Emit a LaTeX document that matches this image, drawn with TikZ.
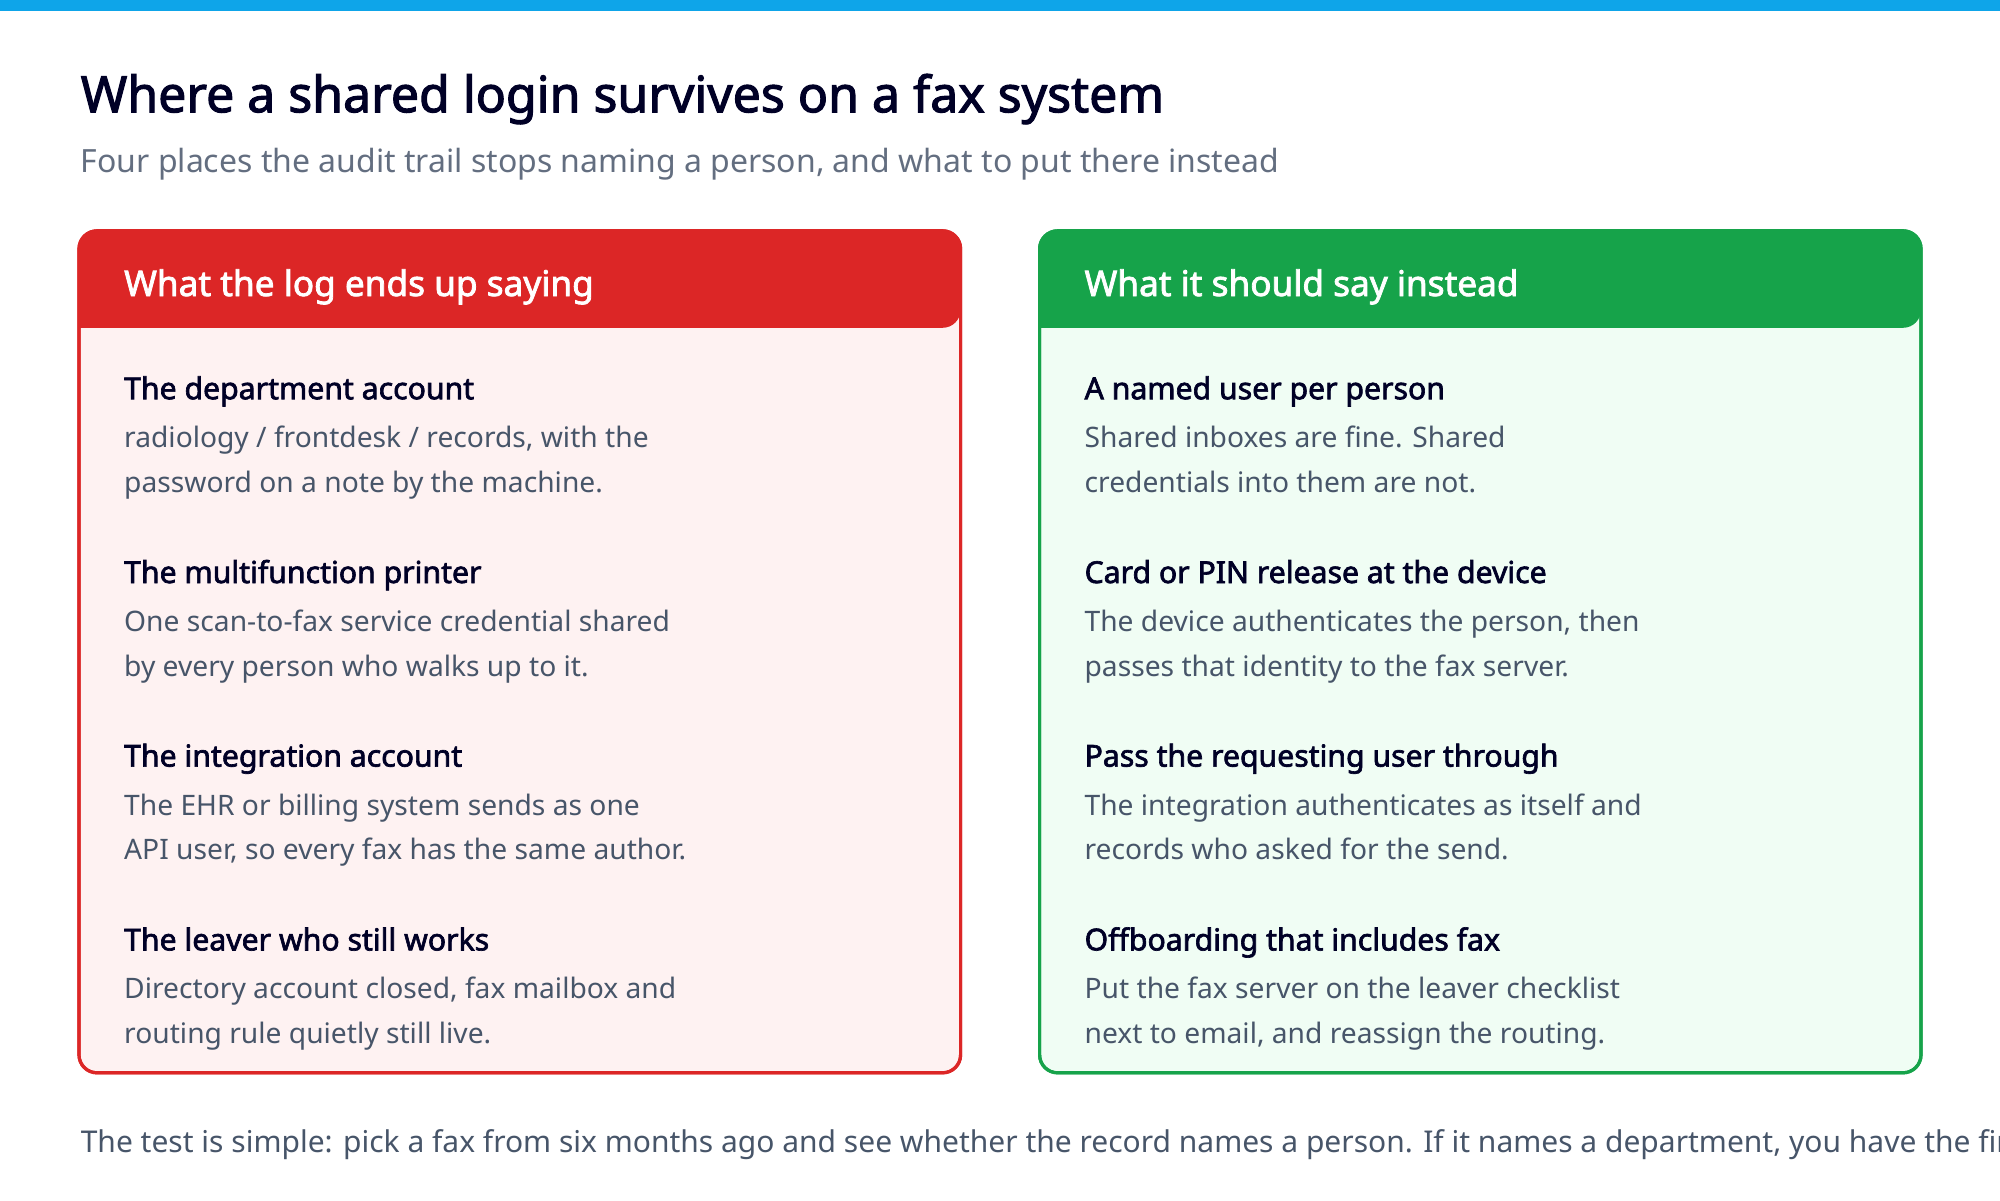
\documentclass[tikz,border=0pt]{standalone}
\usepackage{fontspec}
\setmainfont{Noto Sans}[BoldFont={Noto Sans},BoldFeatures={FakeBold=2.2}]
\begin{document}
\begin{tikzpicture}[x=1pt,y=-1pt,
  t/.style={anchor=base west,inner sep=0pt},
  hd/.style={t,font=\fontsize{15.1}{18}\selectfont\bfseries,text=black!85!blue},
  bd/.style={t,font=\fontsize{14.1}{18}\selectfont,text=slate},
  box/.style={rounded corners=9pt,line width=1.6pt}]
\definecolor{slate}{HTML}{475569}
\definecolor{sky}{HTML}{0EA5E9}
\definecolor{rd}{HTML}{DC2626}\definecolor{rdf}{HTML}{FEF2F2}
\definecolor{gn}{HTML}{16A34A}\definecolor{gnf}{HTML}{F0FDF4}
\useasboundingbox (0,0) rectangle (1000,600);
\clip (0,0) rectangle (1000,600);
\fill[sky] (0,0) rectangle (1000,5.7);
\node[t,font=\fontsize{25}{30}\selectfont\bfseries,text=black!85!blue] (title) at (40.2,56.1) {Where a shared login survives on a fax system};
\node[t,font=\fontsize{16}{20}\selectfont,text=slate!85] (sub) at (40.2,86.1) {Four places the audit trail stops naming a person, and what to put there instead};
% boxes
\draw[box,draw=rd,fill=rdf] (39.5,115.4) rectangle (480.3,536.4);
\fill[rd,rounded corners=9pt] (39.5,163.9) -- (39.5,115.4) -- (480.3,115.4) -- (480.3,163.9) [sharp corners] -- cycle;
\draw[box,draw=rd] (39.5,115.4) rectangle (480.3,536.4);
\draw[box,draw=gn,fill=gnf] (519.8,115.4) rectangle (960.5,536.4);
\fill[gn,rounded corners=9pt] (519.8,163.9) -- (519.8,115.4) -- (960.5,115.4) -- (960.5,163.9) [sharp corners] -- cycle;
\draw[box,draw=gn] (519.8,115.4) rectangle (960.5,536.4);
\node[t,font=\fontsize{17.6}{22}\selectfont\bfseries,text=white] (lh) at (61.9,148) {What the log ends up saying};
\node[t,font=\fontsize{17.6}{22}\selectfont\bfseries,text=white] (rh) at (542.1,148) {What it should say instead};
% left items
\foreach \y/\h/\a/\b [count=\i] in {
 199.6/{The department account}/{radiology / frontdesk / records, with the}/{password on a note by the machine.},
 291.5/{The multifunction printer}/{One scan-to-fax service credential shared}/{by every person who walks up to it.},
 383.3/{The integration account}/{The EHR or billing system sends as one}/{API user, so every fax has the same author.},
 475.2/{The leaver who still works}/{Directory account closed, fax mailbox and}/{routing rule quietly still live.}}{
 \node[hd] (lh\i) at (61.9,\y) {\h};
 \node[bd] (la\i) at (61.9,\y+24.2) {\a};
 \node[bd] (lb\i) at (61.9,\y+46.6) {\b};
}
\foreach \y/\h/\a/\b [count=\i] in {
 199.6/{A named user per person}/{Shared inboxes are fine. Shared}/{credentials into them are not.},
 291.5/{Card or PIN release at the device}/{The device authenticates the person, then}/{passes that identity to the fax server.},
 383.3/{Pass the requesting user through}/{The integration authenticates as itself and}/{records who asked for the send.},
 475.2/{Offboarding that includes fax}/{Put the fax server on the leaver checklist}/{next to email, and reassign the routing.}}{
 \node[hd] (rh\i) at (542.1,\y) {\h};
 \node[bd] (ra\i) at (542.1,\y+24.2) {\a};
 \node[bd] (rb\i) at (542.1,\y+46.6) {\b};
}
\node[t,font=\fontsize{15}{19}\selectfont,text=slate] (foot) at (40.2,576) {The test is simple: pick a fax from six months ago and see whether the record names a person. If it names a department, you have the finding.};
\end{tikzpicture}
\end{document}
